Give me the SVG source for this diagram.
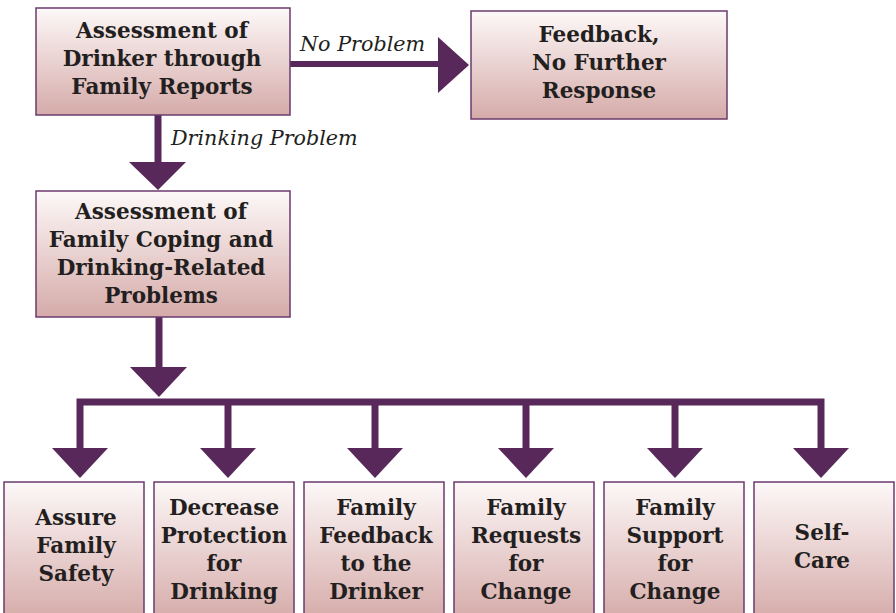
<svg xmlns="http://www.w3.org/2000/svg" width="896" height="613" viewBox="0 0 896 613">
<defs>
<linearGradient id="g" x1="0" y1="0" x2="0" y2="1">
<stop offset="0" stop-color="#fdf8f8"/>
<stop offset="1" stop-color="#d5aba9"/>
</linearGradient>
<linearGradient id="gb" x1="0" y1="482" x2="0" y2="620" gradientUnits="userSpaceOnUse">
<stop offset="0" stop-color="#fdf8f8"/>
<stop offset="1" stop-color="#d5aba9"/>
</linearGradient>
</defs>
<style>
.box{fill:url(#g);stroke:#6b3a6e;stroke-width:1.5}
.boxb{fill:url(#gb);stroke:#6b3a6e;stroke-width:1.5}
.t{font-family:"DejaVu Serif","Liberation Serif",serif;font-weight:bold;font-size:21.5px;fill:#231f20;text-anchor:middle}
.lbl{font-family:"DejaVu Serif","Liberation Serif",serif;font-style:italic;font-size:20.7px;fill:#231f20}
.ln{stroke:#58285a;fill:none}
.ah{fill:#58285a}
</style>
<g id="connectors">
<line class="ln" x1="290" y1="64" x2="440" y2="64" stroke-width="6"/>
<polygon class="ah" points="438,37 469,65 438,93"/>
<line class="ln" x1="158" y1="115" x2="158" y2="164" stroke-width="7"/>
<polygon class="ah" points="129,162 186,162 158,190"/>
<line class="ln" x1="159" y1="317" x2="159" y2="369" stroke-width="7"/>
<polygon class="ah" points="130,367 187,367 159,397"/>
<polyline class="ln" points="80,450 80,402 821,402 821,450" stroke-width="7"/>
<line class="ln" x1="228" y1="402" x2="228" y2="450" stroke-width="7"/>
<line class="ln" x1="375" y1="402" x2="375" y2="450" stroke-width="7"/>
<line class="ln" x1="526" y1="402" x2="526" y2="450" stroke-width="7"/>
<line class="ln" x1="675" y1="402" x2="675" y2="450" stroke-width="7"/>
<polygon class="ah" points="52,448 108,448 80,478"/>
<polygon class="ah" points="200,448 256,448 228,478"/>
<polygon class="ah" points="347,448 403,448 375,478"/>
<polygon class="ah" points="498,448 554,448 526,478"/>
<polygon class="ah" points="647,448 703,448 675,478"/>
<polygon class="ah" points="793,448 849,448 821,478"/>
<text class="lbl" x="300" y="51">No Problem</text>
<text class="lbl" x="171" y="145">Drinking Problem</text>
</g>
<g id="n1">
<rect class="box" x="36" y="8" width="254" height="107"/>
<text class="t" x="162" y="38">Assessment of</text>
<text class="t" x="162" y="66">Drinker through</text>
<text class="t" x="162" y="94">Family Reports</text>
</g>
<g id="n2">
<rect class="box" x="471" y="11" width="256" height="108"/>
<text class="t" x="599" y="42">Feedback,</text>
<text class="t" x="599" y="70">No Further</text>
<text class="t" x="599" y="98">Response</text>
</g>
<g id="n3">
<rect class="box" x="36" y="191" width="254" height="126"/>
<text class="t" x="161" y="219">Assessment of</text>
<text class="t" x="161" y="247">Family Coping and</text>
<text class="t" x="161" y="275">Drinking-Related</text>
<text class="t" x="161" y="303">Problems</text>
</g>
<g id="b1">
<rect class="boxb" x="4" y="482" width="140" height="140"/>
<text class="t" x="76" y="525">Assure</text>
<text class="t" x="76" y="553">Family</text>
<text class="t" x="76" y="581">Safety</text>
</g>
<g id="b2">
<rect class="boxb" x="154" y="482" width="140" height="140"/>
<text class="t" x="224" y="515">Decrease</text>
<text class="t" x="224" y="543">Protection</text>
<text class="t" x="224" y="571">for</text>
<text class="t" x="224" y="599">Drinking</text>
</g>
<g id="b3">
<rect class="boxb" x="304" y="482" width="140" height="140"/>
<text class="t" x="376" y="515">Family</text>
<text class="t" x="376" y="543">Feedback</text>
<text class="t" x="376" y="571">to the</text>
<text class="t" x="376" y="599">Drinker</text>
</g>
<g id="b4">
<rect class="boxb" x="454" y="482" width="140" height="140"/>
<text class="t" x="526" y="515">Family</text>
<text class="t" x="526" y="543">Requests</text>
<text class="t" x="526" y="571">for</text>
<text class="t" x="526" y="599">Change</text>
</g>
<g id="b5">
<rect class="boxb" x="604" y="482" width="140" height="140"/>
<text class="t" x="675" y="515">Family</text>
<text class="t" x="675" y="543">Support</text>
<text class="t" x="675" y="571">for</text>
<text class="t" x="675" y="599">Change</text>
</g>
<g id="b6">
<rect class="boxb" x="754" y="482" width="140" height="140"/>
<text class="t" x="822" y="540">Self-</text>
<text class="t" x="822" y="568">Care</text>
</g>
</svg>
